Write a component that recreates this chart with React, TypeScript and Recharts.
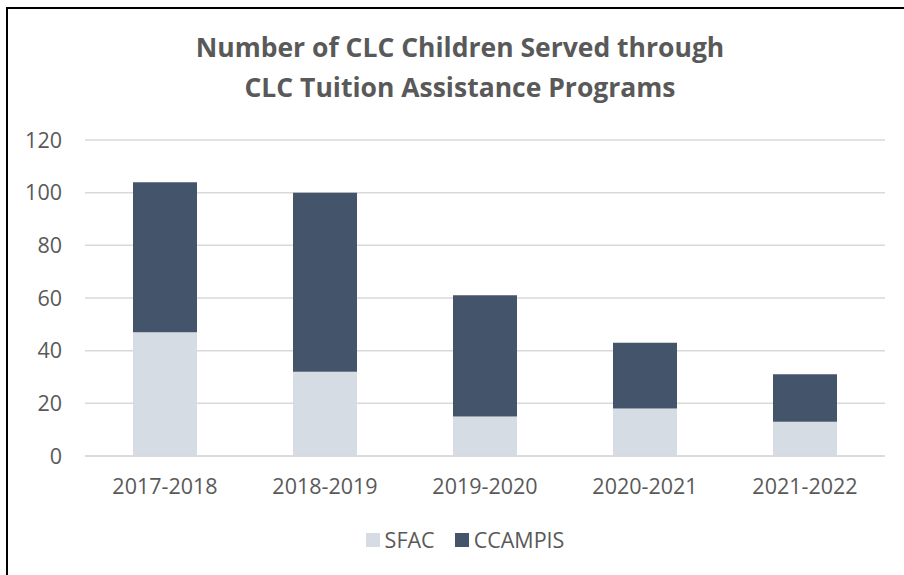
import { Bar, BarChart, CartesianGrid, XAxis, YAxis } from 'recharts'

const years = ['2017-2018', '2018-2019', '2019-2020', '2020-2021', '2021-2022']
const sfac = [47, 32, 15, 18, 13]
const ccampis = [57, 68, 46, 25, 18]
const yTicks = [0, 20, 40, 60, 80, 100, 120]

const series = [
  { key: 'SFAC', color: '#d6dce4' },
  { key: 'CCAMPIS', color: '#44546a' },
]

const data = years.map((year, i) => ({ year, SFAC: sfac[i], CCAMPIS: ccampis[i] }))

const font = '"Open Sans", sans-serif'
const textColor = '#595959'

export default function App() {
  return (
    <div
      style={{
        position: 'absolute',
        left: 0,
        top: 0,
        width: 904,
        height: 575,
        background: '#fff',
        fontFamily: font,
      }}
    >
      <div
        style={{
          position: 'absolute',
          left: 6,
          top: 7,
          width: 904,
          height: 575,
          border: '2px solid #000',
          boxSizing: 'border-box',
        }}
      />
      <div
        style={{
          position: 'absolute',
          left: 0,
          top: 27,
          width: 920,
          textAlign: 'center',
          color: textColor,
          fontWeight: 700,
          fontSize: 26.5,
          lineHeight: '40px',
        }}
      >
        Number of CLC Children Served through
        <br />
        CLC Tuition Assistance Programs
      </div>
      <BarChart
        width={904}
        height={575}
        data={data}
        barCategoryGap="30%"
        margin={{ top: 140, right: 19, bottom: 89, left: 15 }}
        style={{ position: 'absolute', left: 0, top: 0 }}
      >
        <CartesianGrid vertical={false} stroke="#d9d9d9" strokeWidth={1.5} />
        <XAxis
          dataKey="year"
          axisLine={{ stroke: '#d9d9d9', strokeWidth: 1.5 }}
          tickLine={false}
          tick={{ fill: textColor, fontSize: 21.5, fontFamily: font }}
          tickMargin={17}
        />
        <YAxis
          width={70}
          domain={[0, 120]}
          ticks={yTicks}
          axisLine={false}
          tickLine={false}
          tick={{ fill: textColor, fontSize: 21.5, fontFamily: font }}
          tickMargin={17}
        />
        {series.map((s) => (
          <Bar key={s.key} dataKey={s.key} stackId="a" fill={s.color} isAnimationActive={false} />
        ))}
      </BarChart>
      <div
        style={{
          position: 'absolute',
          left: 0,
          top: 527,
          width: 930,
          display: 'flex',
          justifyContent: 'center',
          alignItems: 'center',
          gap: 20,
          fontSize: 21.5,
          color: textColor,
          lineHeight: '26px',
        }}
      >
        {series.map((s) => (
          <div key={s.key} style={{ display: 'flex', alignItems: 'center', gap: 5 }}>
            <span style={{ width: 14, height: 14, background: s.color, display: 'inline-block' }} />
            <span>{s.key}</span>
          </div>
        ))}
      </div>
    </div>
  )
}
